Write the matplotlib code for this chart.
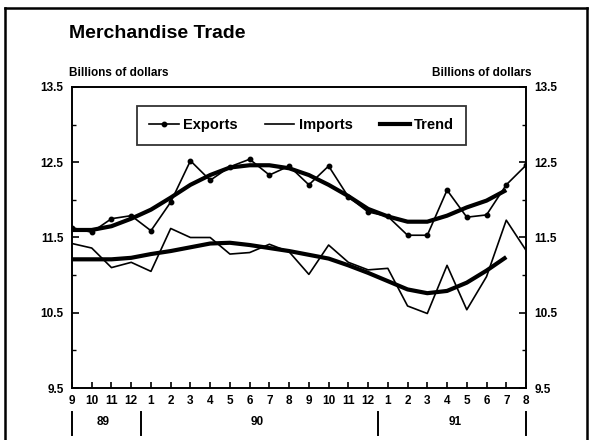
import matplotlib
matplotlib.use("Agg")
import matplotlib.pyplot as plt
from matplotlib.lines import Line2D
import matplotlib.transforms as mtransforms
from matplotlib.ticker import FixedLocator

plt.rcParams['font.family'] = ['Liberation Sans', 'DejaVu Sans']
plt.rcParams['font.weight'] = 'bold'

month_labels = ['9', '10', '11', '12', '1', '2', '3', '4', '5', '6', '7', '8',
                '9', '10', '11', '12', '1', '2', '3', '4', '5', '6', '7', '8']
exports = [11.63, 11.57, 11.75, 11.79, 11.59, 11.97, 12.52, 12.26, 12.44, 12.54,
           12.33, 12.45, 12.20, 12.45, 12.04, 11.84, 11.78, 11.53, 11.53, 12.13,
           11.77, 11.80, 12.20, 12.46]
imports = [11.42, 11.36, 11.10, 11.17, 11.05, 11.62, 11.50, 11.50, 11.28, 11.30,
           11.41, 11.31, 11.01, 11.40, 11.17, 11.07, 11.09, 10.59, 10.49, 11.13,
           10.54, 10.98, 11.73, 11.33]
export_trend = [11.60, 11.60, 11.65, 11.75, 11.87, 12.03, 12.20, 12.33, 12.43, 12.46,
                12.46, 12.42, 12.33, 12.20, 12.05, 11.88, 11.78, 11.71, 11.71, 11.79,
                11.90, 11.99, 12.13]
import_trend = [11.21, 11.21, 11.21, 11.23, 11.28, 11.32, 11.37, 11.42, 11.43, 11.40,
                11.36, 11.32, 11.27, 11.22, 11.13, 11.03, 10.92, 10.81, 10.76, 10.79,
                10.90, 11.06, 11.24]
year_labels = ['89', '90', '91']
year_pos = [1.6, 9.4, 19.4]
year_breaks = [0, 3.5, 15.5, 23]
y_ticks = [9.5, 10.5, 11.5, 12.5, 13.5]

W, H = 590, 440
AX_L, AX_R, AX_T, AX_B = 72, 526, 87, 388
fig = plt.figure(figsize=(W / 100, H / 100), dpi=100)
ax = fig.add_axes([AX_L / W, 1 - AX_B / H, (AX_R - AX_L) / W, (AX_B - AX_T) / H])

x = list(range(len(exports)))
xt = list(range(len(export_trend)))

ax.plot(x, exports, color='black', lw=1.2, marker='o', ms=3.2)
ax.plot(x, imports, color='black', lw=1.2)
ax.plot(xt, export_trend, color='black', lw=3.0, solid_capstyle='butt')
ax.plot(xt, import_trend, color='black', lw=3.0, solid_capstyle='butt')

ax.set_xlim(0, 23)
ax.set_ylim(9.5, 13.5)

for s in ax.spines.values():
    s.set_linewidth(1.4)

ax.yaxis.set_major_locator(FixedLocator(y_ticks))
ax.yaxis.set_minor_locator(FixedLocator([10.0, 11.0, 12.0, 13.0]))
ax.set_yticklabels([f'{v:.1f}' for v in y_ticks])
ax.tick_params(axis='y', which='major', direction='in', length=5, width=1.2,
               left=True, right=True, labelleft=True, labelright=True,
               labelsize=8.5, pad=6)
ax.tick_params(axis='y', which='minor', direction='in', length=3, width=1.0,
               left=True, right=True)
ax.set_xticks(x)
ax.set_xticklabels(month_labels)
ax.tick_params(axis='x', which='major', direction='in', length=4, width=1.2,
               top=False, bottom=True, labelsize=8.5, pad=5)

trans = mtransforms.blended_transform_factory(ax.transData, ax.transAxes)
for yl, yp in zip(year_labels, year_pos):
    ax.text(yp, -0.113, yl, transform=trans, ha='center', va='center',
            fontsize=8.5, fontweight='bold')
for b in year_breaks:
    ax.plot([b, b], [-0.08, -0.155], transform=trans, color='black',
            lw=1.4, clip_on=False)

# legend
handles = [Line2D([], [], color='black', lw=1.2, marker='o', ms=3.2),
           Line2D([], [], color='black', lw=1.2),
           Line2D([], [], color='black', lw=3.0)]
ax_w = AX_R - AX_L
ax_h = AX_B - AX_T
leg = ax.legend(handles, ['Exports', 'Imports', 'Trend'], ncol=3,
                loc='upper left',
                bbox_to_anchor=((137 - AX_L) / ax_w, (AX_B - 106) / ax_h),
                borderaxespad=0, fancybox=False,
                frameon=True, fontsize=10.5, handlelength=2.0,
                handletextpad=0.3, columnspacing=1.9, borderpad=0.85)
leg.get_frame().set_edgecolor('black')
leg.get_frame().set_linewidth(1.3)

fig.text(69 / W, 1 - 34 / H, 'Merchandise Trade', fontsize=14,
         fontweight='bold', ha='left', va='center')
fig.text(69 / W, 1 - 73 / H, 'Billions of dollars', fontsize=8.5,
         fontweight='bold', ha='left', va='center')
fig.text(531 / W, 1 - 73 / H, 'Billions of dollars', fontsize=8.5,
         fontweight='bold', ha='right', va='center')

# outer frame
fig.add_artist(Line2D([5 / W, 5 / W], [0, 1 - 8 / H], color='black', lw=1.8,
                      transform=fig.transFigure))
fig.add_artist(Line2D([5 / W, 587 / W], [1 - 8 / H, 1 - 8 / H], color='black',
                      lw=1.8, transform=fig.transFigure))
fig.add_artist(Line2D([587 / W, 587 / W], [0, 1 - 8 / H], color='black', lw=1.8,
                      transform=fig.transFigure))

fig.savefig('out.png', dpi=100)
